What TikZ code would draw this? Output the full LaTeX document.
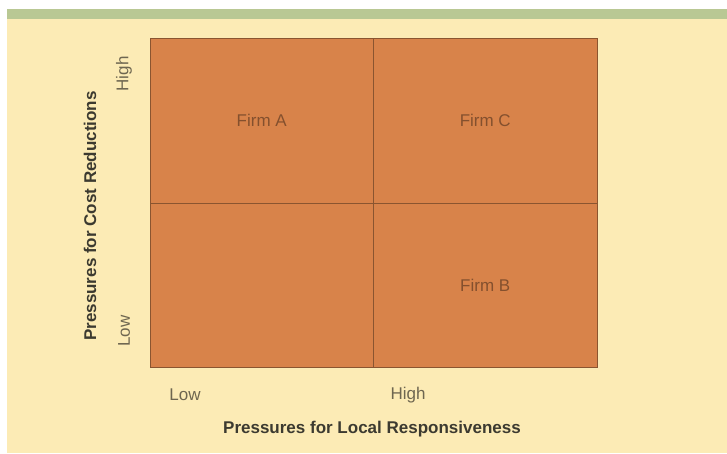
\documentclass[tikz,border=0pt]{standalone}
\usepackage{fontspec}
\setmainfont{Liberation Sans}
\usetikzlibrary{positioning}
\definecolor{cream}{HTML}{FCEBB5}
\definecolor{band}{HTML}{B9C894}
\definecolor{rust}{HTML}{D8834A}
\definecolor{edge}{HTML}{8A5530}
\definecolor{firmtext}{HTML}{84502E}
\definecolor{axistext}{HTML}{3C3A30}
\definecolor{ticktext}{HTML}{6E6650}
\begin{document}
\begin{tikzpicture}
[x=1pt,y=-1pt,
every node/.style={inner sep=0pt,outer sep=0pt,font=\fontsize{17}{20}\selectfont},
cell/.style={draw=edge,fill=rust,line width=1pt,minimum width=223.5pt,minimum height=164.5pt,text=firmtext},
tick/.style={text=ticktext},
axis/.style={text=axistext,font=\fontsize{17}{20}\selectfont\bfseries}]
\useasboundingbox (0,0) rectangle (727,453);
\fill[white] (0,0) rectangle (727,453);
\fill[cream] (7,19) rectangle (727,453);
\fill[band] (7,9) rectangle (727,19);
% quadrants
\node[cell] (qa) at (261.75,120.75) {Firm A};
\node[cell,right=0pt of qa] (qc) {Firm C};
\node[cell,below=0pt of qa] (qd) {};
\node[cell,below=0pt of qc] (qb) {Firm B};
% vertical axis
\node[tick,rotate=90] (yhigh) at (124,74) {High};
\node[tick,rotate=90] (ylow) at (124,331) {Low};
\node[axis,rotate=90] (ytitle) at (90,216) {Pressures for Cost Reductions};
% horizontal axis
\node[tick] (xlow) at (185,395) {Low};
\node[tick] (xhigh) at (408,395) {High};
\node[axis] (xtitle) at (372,429) {Pressures for Local Responsiveness};
\end{tikzpicture}
\end{document}
